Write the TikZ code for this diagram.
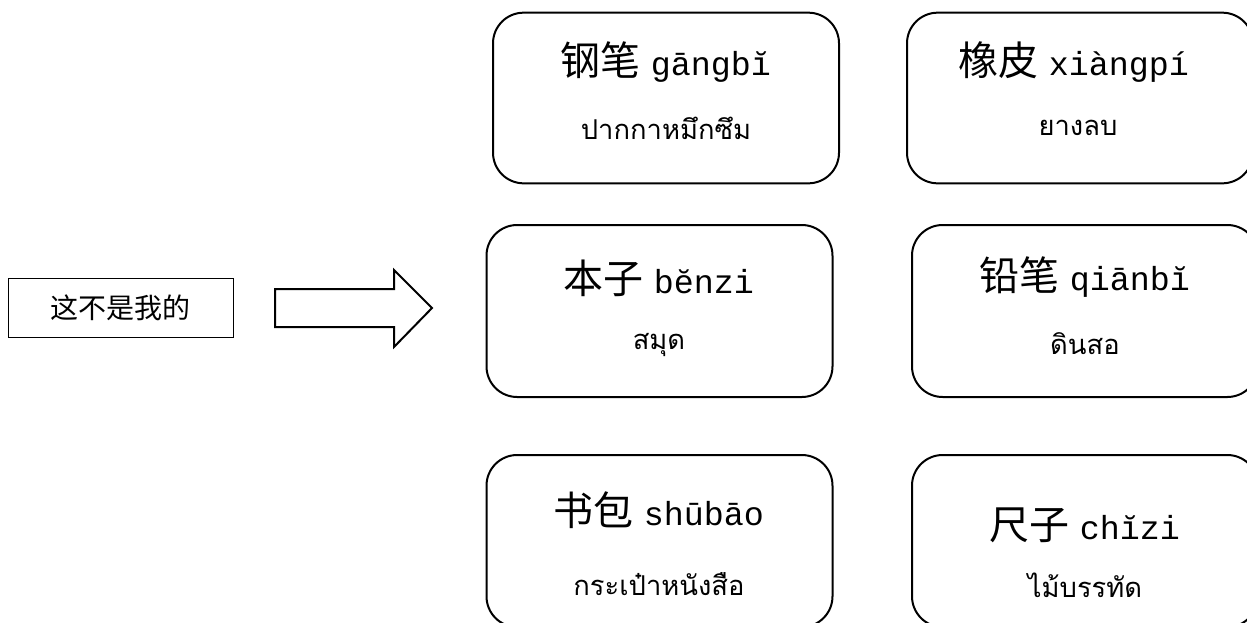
\documentclass[tikz,border=0pt]{standalone}
\usepackage{fontspec}
\setmainfont{Liberation Serif}
\newfontfamily\zhfont{Noto Sans CJK SC}
\newfontfamily\thfont[Script=Thai]{Loma}
\newfontfamily\pyfont{Liberation Mono}

\begin{document}
\begin{tikzpicture}[x=0.75pt, y=-0.75pt,
    card/.style={draw, line width=1.5pt, rounded corners=23pt, minimum width=259.5pt, minimum height=128pt, inner sep=0pt},
    word/.style={inner sep=0pt, font=\fontsize{30}{30}\selectfont},
    thai/.style={inner sep=0pt, font=\fontsize{20.5}{20.5}\thfont}]
    \clip (0,0) rectangle (1247,622);

    % Sentence box on the left
    \node[draw, line width=0.75pt, minimum width=168.75pt, minimum height=44.25pt, font=\fontsize{21}{21}\zhfont] (sentence) at (120.5,307.5) {这不是我的};

    % Big outline arrow
    \draw[line width=1.5pt, line join=miter] (275,289) -- (394,289) -- (394,270) -- (432,308) -- (394,347) -- (394,327) -- (275,327) -- cycle;

    % Pen card
    \node[card] (pen) at (666,98) {};
    \node[word] (penword) at (666,62) {{\zhfont 钢笔} {\pyfont\fontsize{25}{25}\selectfont gāngbĭ}};
    \node[thai] (penthai) at (666,128) {ปากกาหมึกซึม};

    % Eraser card
    \node[card] (eraser) at (1080,98) {};
    \node[word] (eraserword) at (1074,62) {{\zhfont 橡皮} {\pyfont\fontsize{25}{25}\selectfont xiàngpí}};
    \node[thai] (eraserthai) at (1078,128) {ยางลบ};

    % Notebook card
    \node[card, minimum height=129pt] (notebook) at (659.5,311) {};
    \node[word] (notebookword) at (659,278) {{\zhfont 本子} {\pyfont\fontsize{25}{25}\selectfont bĕnzi}};
    \node[thai] (notebookthai) at (659,345) {สมุด};

    % Pencil card
    \node[card, minimum height=129pt] (pencil) at (1085,311) {};
    \node[word] (pencilword) at (1085,277) {{\zhfont 铅笔} {\pyfont\fontsize{25}{25}\selectfont qiānbĭ}};
    \node[thai] (pencilthai) at (1085,344) {ดินสอ};

    % School bag card
    \node[card, minimum height=129pt] (bag) at (659.5,541) {};
    \node[word] (bagword) at (659,510) {{\zhfont 书包} {\pyfont\fontsize{25}{25}\selectfont shūbāo}};
    \node[thai] (bagthai) at (659,584) {กระเป๋าหนังสือ};

    % Ruler card
    \node[card, minimum height=129pt] (ruler) at (1085,541) {};
    \node[word] (rulerword) at (1085,525) {{\zhfont 尺子} {\pyfont\fontsize{25}{25}\selectfont chĭzi}};
    \node[thai] (rulerthai) at (1085,585) {ไม้บรรทัด};
\end{tikzpicture}
\end{document}
